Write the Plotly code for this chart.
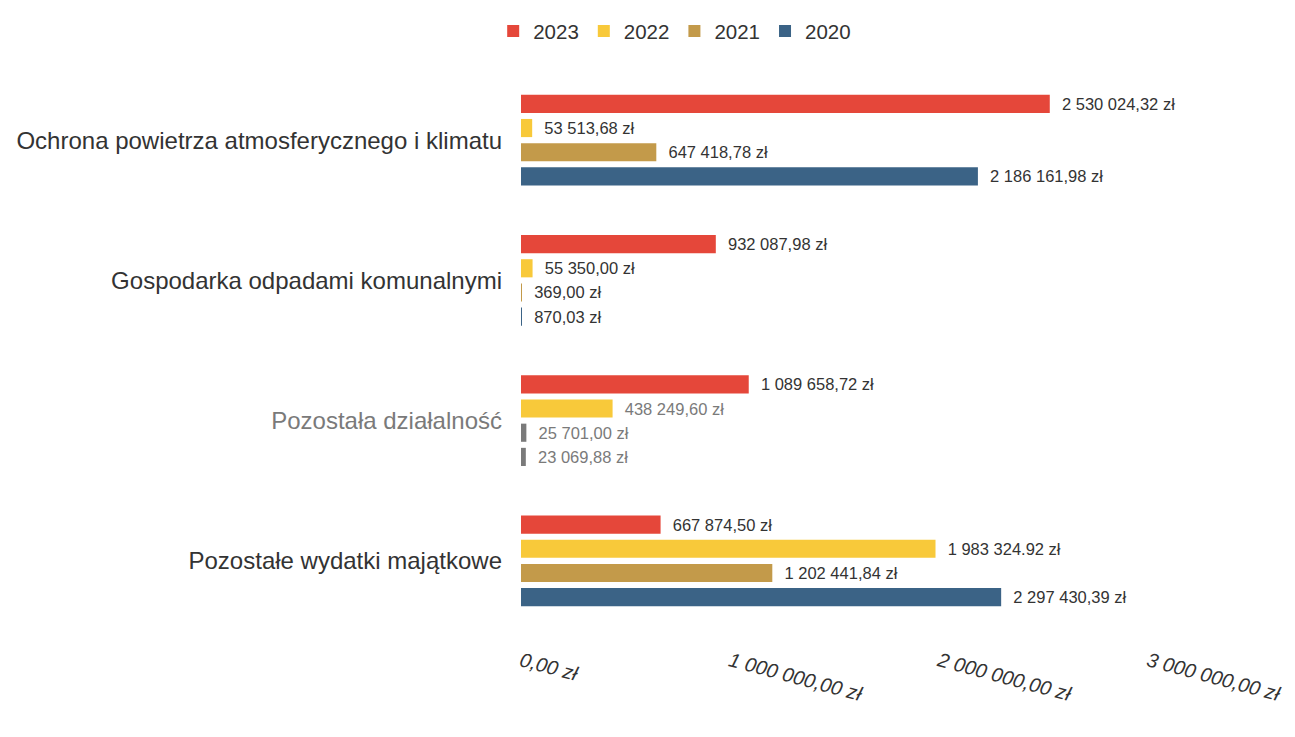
import plotly.graph_objects as go

# Expenditure categories (top to bottom)
categories = [
    "Ochrona powietrza atmosferycznego i klimatu",
    "Gospodarka odpadami komunalnymi",
    "Pozostała działalność",
    "Pozostałe wydatki majątkowe",
]

years = ["2023", "2022", "2021", "2020"]

values_2023 = [2530024.32, 932087.98, 1089658.72, 667874.50]
values_2022 = [53513.68, 55350.00, 438249.60, 1983324.92]
values_2021 = [647418.78, 369.00, 25701.00, 1202441.84]
values_2020 = [2186161.98, 870.03, 23069.88, 2297430.39]

labels_2023 = ["2 530 024,32 zł", "932 087,98 zł", "1 089 658,72 zł", "667 874,50 zł"]
labels_2022 = ["53 513,68 zł", "55 350,00 zł", "438 249,60 zł", "1 983 324.92 zł"]
labels_2021 = ["647 418,78 zł", "369,00 zł", "25 701,00 zł", "1 202 441,84 zł"]
labels_2020 = ["2 186 161,98 zł", "870,03 zł", "23 069,88 zł", "2 297 430,39 zł"]

x_ticks = [0, 1000000, 2000000, 3000000]
x_tick_labels = ["0,00 zł", "1 000 000,00 zł", "2 000 000,00 zł", "3 000 000,00 zł"]

series_values = [values_2023, values_2022, values_2021, values_2020]
series_labels = [labels_2023, labels_2022, labels_2021, labels_2020]
series_colors = ["#E5473A", "#F8C93A", "#C39A4A", "#3B6386"]

GREY = "#7A7A7A"
TEXT = "#333333"
FONT = "Liberation Sans, Arial, sans-serif"
muted_category = "Pozostała działalność"

fig = go.Figure()
for year, vals, labs, color in zip(years, series_values, series_labels, series_colors):
    bar_colors = []
    text_colors = []
    for cat in categories:
        muted = cat == muted_category
        if muted and year in ("2021", "2020"):
            bar_colors.append(GREY)
        else:
            bar_colors.append(color)
        text_colors.append(GREY if muted and year != "2023" else TEXT)
    fig.add_trace(go.Bar(
        name=year,
        y=categories,
        x=vals,
        orientation="h",
        marker=dict(color=bar_colors, line=dict(width=0)),
        text=labs,
        texttemplate="&nbsp;&nbsp;%{text}",
        textposition="outside",
        textfont=dict(size=16.5, color=text_colors, family=FONT),
        cliponaxis=False,
        constraintext="none",
        hoverinfo="x+name",
    ))

cat_text = [
    f'<span style="color:{GREY}">{c}</span>' if c == muted_category else c
    for c in categories
]

fig.update_layout(
    width=1295,
    height=737,
    margin=dict(l=521, r=147, t=70, b=106),
    paper_bgcolor="white",
    plot_bgcolor="white",
    barmode="group",
    bargap=0.31,
    bargroupgap=0.25,
    font=dict(family=FONT, color=TEXT),
    legend=dict(
        orientation="h",
        xref="container", x=0.521, xanchor="center",
        yref="container", y=0.985, yanchor="top",
        font=dict(size=20.5, color=TEXT, family=FONT),
        itemclick=False,
    ),
    xaxis=dict(
        range=[0, 3000000],
        tickvals=x_ticks,
        ticktext=[f"<i>{t}</i>" for t in x_tick_labels],
        tickangle=15,
        tickfont=dict(size=20, color=TEXT, family=FONT),
        showgrid=False,
        zeroline=False,
        showline=False,
        ticks="",
        ticklabelstandoff=14,
    ),
    yaxis=dict(
        categoryorder="array",
        categoryarray=categories,
        tickvals=categories,
        ticktext=cat_text,
        autorange="reversed",
        tickfont=dict(size=24, color=TEXT, family=FONT),
        showgrid=False,
        zeroline=False,
        showline=False,
        ticks="",
        ticklabelstandoff=18,
    ),
)

fig.write_html("out.html")
